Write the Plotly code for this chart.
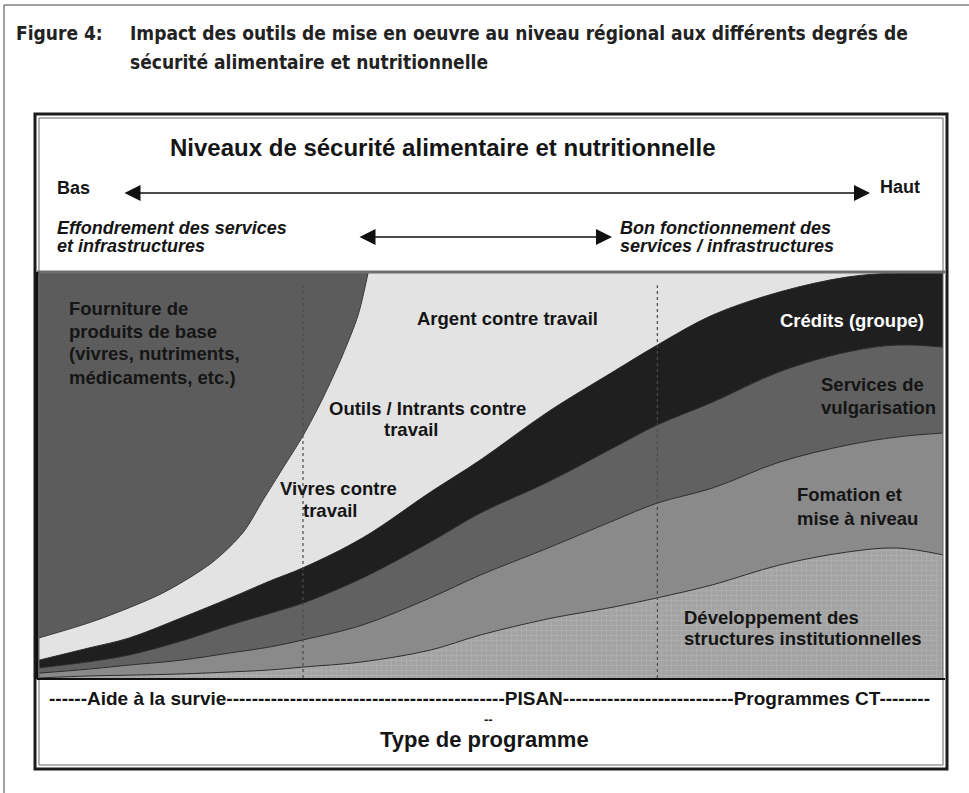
import plotly.graph_objects as go

# positions le long de l'axe horizontal (0 = bas, 100 = haut)
positions = [0, 5.5, 10, 15.7, 21.2, 25.6, 29.2, 35.8, 43.3, 48.8, 56.3, 63.5,
             68.4, 74.5, 81.9, 89.4, 94.9, 100]

# limite supérieure de chaque bande (échelle 0-100)
developpement_top = [0, 0.5, 0.7, 1.0, 1.5, 2.0, 2.7, 4.0, 6.9, 10.6, 14.6, 17.5,
                     19.8, 23.0, 27.9, 31.1, 32.1, 30.4]
formation_top = [1.2, 2.2, 3.2, 4.4, 6.2, 7.7, 9.4, 13.1, 19.8, 25.4, 32.1, 38.8,
                 43.2, 46.9, 53.3, 57.5, 59.5, 60.5]
services_top = [2.5, 4.0, 5.7, 9.1, 13.1, 16.0, 18.5, 24.7, 33.6, 40.7, 48.4, 56.8,
                62.5, 68.1, 75.6, 80.5, 82.2, 81.7]
credits_top = [4.4, 7.4, 9.9, 14.8, 19.8, 24.0, 27.2, 34.6, 45.9, 53.8, 65.7, 75.6,
               82.2, 89.6, 95.3, 99.0, 100, 100]

# courbe limite de la zone "Fourniture de produits de base"
fourniture_x = [0, 6.4, 13.7, 19.2, 22.6, 24.8, 27.0, 29.2, 31.4, 33.6, 35.3, 36.4]
fourniture_y = [9.9, 14.3, 21.0, 28.6, 36.0, 44.0, 51.9, 59.8, 69.1, 79.8, 89.6, 100]

# séparations en pointillé (début / fin du PISAN)
separations = [29.2, 68.4]

W, H = 969, 793


def fx(px):
    return px / W


def fy(py):
    return 1 - py / H


ARIAL = "Liberation Sans, Arial, sans-serif"
NARROW = "Liberation Sans Narrow, DejaVu Sans Condensed, sans-serif"
edge = dict(color="#2b2b2b", width=1, shape="spline", smoothing=1)

fig = go.Figure()
fig.add_trace(go.Scatter(x=positions, y=developpement_top, mode="lines", line=edge,
                         fill="tozeroy", fillcolor="#a4a4a4",
                         fillpattern=dict(shape="+", fgcolor="#bdbdbd", bgcolor="#a3a3a3",
                                          size=5, solidity=0.25),
                         hoverinfo="skip"))
fig.add_trace(go.Scatter(x=positions, y=formation_top, mode="lines", line=edge,
                         fill="tonexty", fillcolor="#8a8a8a", hoverinfo="skip"))
fig.add_trace(go.Scatter(x=positions, y=services_top, mode="lines", line=edge,
                         fill="tonexty", fillcolor="#616161", hoverinfo="skip"))
fig.add_trace(go.Scatter(x=positions, y=credits_top, mode="lines", line=edge,
                         fill="tonexty", fillcolor="#1f1f1f", hoverinfo="skip"))
fig.add_trace(go.Scatter(x=[0, fourniture_x[-1]], y=[100, 100], mode="lines",
                         line=dict(width=0), hoverinfo="skip"))
fig.add_trace(go.Scatter(x=fourniture_x, y=fourniture_y, mode="lines",
                         line=dict(color="#3a3a3a", width=1, shape="spline", smoothing=0.8),
                         fill="tonexty", fillcolor="#5c5c5c", hoverinfo="skip"))

shapes = []
for s in separations:
    shapes.append(dict(type="line", xref="x", yref="y", x0=s, x1=s, y0=0, y1=97,
                       line=dict(color="#4a4a4a", width=1.2, dash="dot"), layer="above"))
# cadre de la page
shapes.append(dict(type="line", xref="paper", yref="paper", x0=fx(4), x1=1,
                   y0=fy(5), y1=fy(5), line=dict(color="#444", width=1)))
shapes.append(dict(type="line", xref="paper", yref="paper", x0=fx(4), x1=fx(4),
                   y0=fy(5), y1=0, line=dict(color="#444", width=1)))
# cadre du schéma
shapes.append(dict(type="rect", xref="paper", yref="paper", x0=fx(35), x1=fx(947),
                   y0=fy(114), y1=fy(769), line=dict(color="#1c1c1c", width=3)))
shapes.append(dict(type="rect", xref="paper", yref="paper", x0=fx(39), x1=fx(943),
                   y0=fy(118), y1=fy(765), line=dict(color="#666", width=1)))
shapes.append(dict(type="line", xref="paper", yref="paper", x0=fx(37), x1=fx(945),
                   y0=fy(272), y1=fy(272), line=dict(color="#6f6f6f", width=3)))
shapes.append(dict(type="line", xref="paper", yref="paper", x0=fx(37), x1=fx(945),
                   y0=fy(679), y1=fy(679), line=dict(color="#111", width=2)))
shapes.append(dict(type="line", xref="paper", yref="paper", x0=fx(37), x1=fx(37),
                   y0=fy(272), y1=fy(679), line=dict(color="#111", width=3)))

ann = []


def txt(s, x, y, size=18.5, anchor="left", color="#151515", family=ARIAL,
        weight="bold", style="normal"):
    ann.append(dict(text=s, x=fx(x), y=fy(y), xref="paper", yref="paper",
                    xanchor=anchor, yanchor="middle", showarrow=False,
                    font=dict(family=family, size=size, color=color, weight=weight,
                              style=style)))


# titre
txt("Figure 4:", 14, 33, size=19, family=NARROW, color="#222")
txt("Impact des outils de mise en oeuvre au niveau régional aux différents degrés de",
    128, 33, size=19, family=NARROW, color="#222")
txt("sécurité alimentaire et nutritionnelle", 128, 62, size=19, family=NARROW,
    color="#222")

# en-tête
txt("Niveaux de sécurité alimentaire et nutritionnelle", 168, 148, size=24)
txt("Bas", 55, 188, size=18)
txt("Haut", 878, 187, size=18)
txt("Effondrement des services", 55, 228, size=18, style="italic")
txt("et infrastructures", 55, 246, size=18, style="italic")
txt("Bon fonctionnement des", 618, 228, size=18, style="italic")
txt("services / infrastructures", 618, 246, size=18, style="italic")

for (x0, x1, y) in [(123, 870, 193), (358, 612, 237)]:
    ann.append(dict(x=fx(x1), y=fy(y), ax=x0 - x1, ay=0, xref="paper", yref="paper",
                    axref="pixel", ayref="pixel", text="", showarrow=True,
                    arrowhead=2, arrowside="end+start", arrowsize=2, arrowwidth=1.6,
                    arrowcolor="#111", standoff=0, startstandoff=0))

# étiquettes des zones
for i, s in enumerate(["Fourniture de", "produits de base", "(vivres, nutriments,",
                       "médicaments, etc.)"]):
    txt(s, 67, 308 + 23 * i)
txt("Argent contre travail", 507, 318, anchor="center")
txt("Outils / Intrants contre", 427, 408, anchor="center")
txt("travail", 411, 429, anchor="center")
txt("Vivres contre", 338, 488, anchor="center")
txt("travail", 330, 510, anchor="center")
txt("Crédits (groupe)", 778, 320, color="#ffffff")
txt("Services de", 819, 384)
txt("vulgarisation", 819, 407)
txt("Fomation et", 795, 495)
txt("mise à niveau", 795, 518)
txt("Développement des", 682, 617)
txt("structures institutionnelles", 682, 638)

# type de programme
txt("------Aide à la survie" + "-" * 44 + "PISAN" + "-" * 27 + "Programmes CT" + "-" * 8,
    47, 698, size=19)
txt("--", 488, 719, size=13, anchor="center")
txt("Type de programme", 485, 739, size=22, anchor="center")

fig.update_layout(
    width=W, height=H,
    margin=dict(l=0, r=0, t=0, b=0),
    paper_bgcolor="white",
    plot_bgcolor="#e3e3e3",
    showlegend=False,
    xaxis=dict(domain=[fx(39), fx(943)], range=[0, 100], visible=False, fixedrange=True),
    yaxis=dict(domain=[fy(678), fy(273)], range=[0, 100], visible=False, fixedrange=True),
    shapes=shapes,
    annotations=ann,
)

fig.write_html("out.html", config={"displayModeBar": False},
               post_script="document.body.style.margin='0';")
